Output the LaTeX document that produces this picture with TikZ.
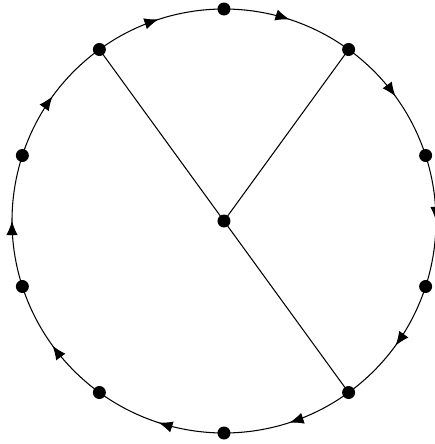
\documentclass[tikz,border=0pt]{standalone}
\usepackage{tikz}
\usetikzlibrary{arrows.meta,calc,decorations.markings}
\tikzset{rim/.style={draw=black,line width=.6pt,decoration={markings,mark=at position .5 with {\arrow{Latex[length=8pt,width=6.5pt]}}},postaction={decorate}},spoke/.style={draw=black,line width=.6pt},dot/.style={circle,fill=black,inner sep=0pt,minimum size=.26cm}}

\begin{document}
\begin{tikzpicture}[x=1cm,y=1cm]
\useasboundingbox (-4.48,-4.46) rectangle (4.22,4.42);
\coordinate (c) at (0,0);
\foreach \i in {0,...,9}{\pgfmathsetmacro\a{90-36*\i}\coordinate (v\i) at (\a:4.24);}
\foreach \i in {0,...,9}{\pgfmathsetmacro\a{90-36*\i}\draw[rim] (v\i) arc[start angle=\a,end angle=\a-36,radius=4.24];}
\draw[spoke] (v9)--(c)--(v4);\draw[spoke] (c)--(v1);
\node[dot] (o) at (c) {};
\foreach \i in {0,...,9}{\node[dot] (p\i) at (v\i) {};}
\end{tikzpicture}
\end{document}
